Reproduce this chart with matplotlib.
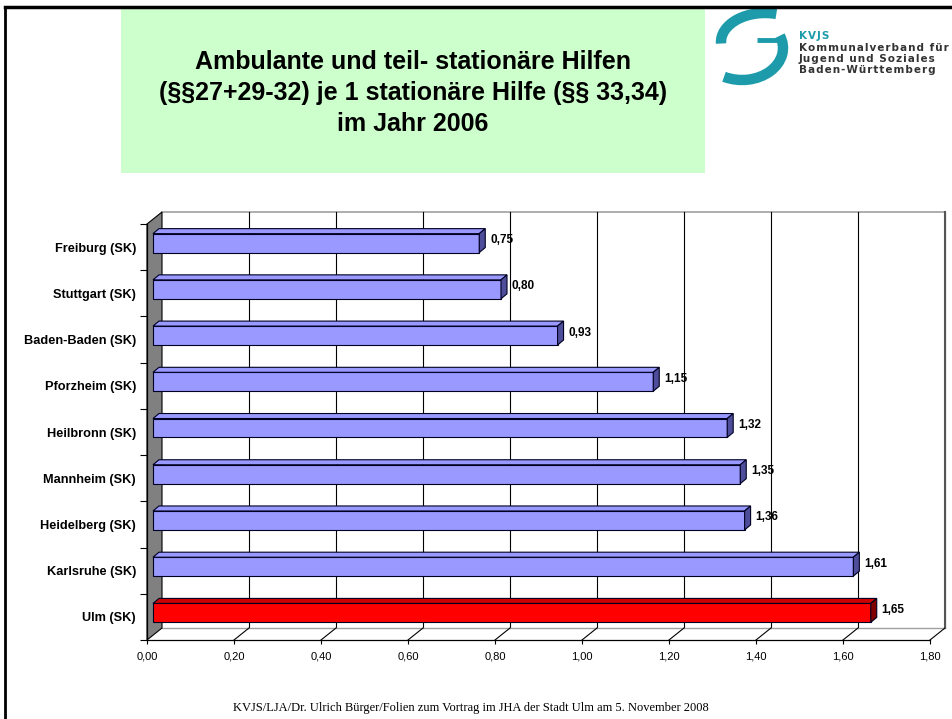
import matplotlib.pyplot as plt
from matplotlib.patches import Polygon, Rectangle, Arc
from matplotlib.ticker import FuncFormatter

# ------------------------------------------------------
# Data
# ------------------------------------------------------

cities = [
    "Freiburg (SK)",
    "Stuttgart (SK)",
    "Baden-Baden (SK)",
    "Pforzheim (SK)",
    "Heilbronn (SK)",
    "Mannheim (SK)",
    "Heidelberg (SK)",
    "Karlsruhe (SK)",
    "Ulm (SK)",
]
values = [0.75, 0.80, 0.93, 1.15, 1.32, 1.35, 1.36, 1.61, 1.65]
highlight = "Ulm (SK)"

x_ticks = [0.0, 0.2, 0.4, 0.6, 0.8, 1.0, 1.2, 1.4, 1.6, 1.8]

title = ("Ambulante und teil- stationäre Hilfen\n"
         "(§§27+29-32) je 1 stationäre Hilfe (§§ 33,34)\n"
         "im Jahr 2006")
footer = ("KVJS/LJA/Dr. Ulrich Bürger/Folien zum Vortrag im JHA "
          "der Stadt Ulm am 5. November 2008")
logo_lines = ["Kommunalverband für", "Jugend und Soziales",
              "Baden-Württemberg"]

# ------------------------------------------------------
# Figure
# ------------------------------------------------------

W, H = 952, 719
fig = plt.figure(figsize=(W / 100, H / 100), dpi=100)
plt.rcParams["font.family"] = ["Liberation Sans", "DejaVu Sans"]

# decoration layer in pixel coordinates
deco = fig.add_axes([0, 0, 1, 1])
deco.set_xlim(0, W)
deco.set_ylim(H, 0)
deco.axis("off")

deco.add_patch(Rectangle((121, 8), 584, 165, color="#CCFFCC", lw=0))
deco.plot([5, 5], [7, H], color="black", lw=2)
deco.plot([5, W], [7, 7], color="black", lw=2.5)

deco.text(413, 93, title, ha="center", va="center", fontsize=18,
          fontweight="bold", linespacing=1.36)

deco.text(471, 708, footer, ha="center", va="center", fontsize=9,
          family=["Liberation Serif"])

# logo
teal = "#1E9BAA"
deco.add_patch(Arc((765, 42), 88, 58, theta1=178, theta2=292,
                   color=teal, lw=7.5))
deco.plot([757, 782], [40, 40], color=teal, lw=3.5, solid_capstyle="butt")
deco.add_patch(Arc((742, 48), 82, 64, theta1=-18, theta2=122,
                   color=teal, lw=7.5))


def spaced(s):
    return "\u200a".join(s).replace("\u200a \u200a", "\u200a \u200a")


deco.text(799, 36, spaced("KVJS"), color=teal, fontsize=7.5,
          fontweight="bold", family=["DejaVu Sans"], va="center")
for i, line in enumerate(logo_lines):
    deco.text(799, 48 + i * 11.2, spaced(line), color="#333333",
              fontsize=7.5, fontweight="bold", family=["DejaVu Sans"],
              va="center")

# ------------------------------------------------------
# Chart (front plane)
# ------------------------------------------------------

left, right, top, bottom = 147, 930, 224, 640
ax = fig.add_axes([left / W, (H - bottom) / H,
                   (right - left) / W, (bottom - top) / H])
ax.patch.set_alpha(0)

n = len(cities)
xmax = x_ticks[-1]
ax.set_xlim(0, xmax)
ax.set_ylim(n - 0.5, -0.5)

sx = xmax / (right - left)
sy = n / (bottom - top)


def off(px_x, px_y):
    # pixel offset (right, up) -> data offset
    return px_x * sx, -px_y * sy


# depth of the box
dx, dy = off(15, 12)
y_top, y_bot = -0.5, n - 0.5

# floor
ax.add_patch(Polygon([(0, y_bot), (xmax, y_bot), (xmax + dx, y_bot + dy),
                      (dx, y_bot + dy)], closed=True, fc="white",
                     ec="none", clip_on=False, zorder=1))
ax.plot([dx, xmax + dx], [y_bot + dy, y_bot + dy], color="#A0A0A0",
        lw=1, clip_on=False, zorder=2)
# side wall
ax.add_patch(Polygon([(0, y_top), (0, y_bot), (dx, y_bot + dy),
                      (dx, y_top + dy)], closed=True, fc="#808080",
                     ec="black", lw=0.8, clip_on=False, zorder=2))
# back wall
ax.plot([dx, xmax + dx], [y_top + dy, y_top + dy], color="#A0A0A0",
        lw=1.2, clip_on=False, zorder=1)
for v in x_ticks[1:]:
    ax.plot([v + dx, v + dx], [y_top + dy, y_bot + dy], color="black",
            lw=0.8, clip_on=False, zorder=1)
    ax.plot([v, v + dx], [y_bot, y_bot + dy], color="black",
            lw=0.8, clip_on=False, zorder=2)
ax.plot([xmax + dx] * 2, [y_top + dy, y_bot + dy], color="#555555",
        lw=1.5, clip_on=False, zorder=1)

# bars
bx, by = off(6, 4)
bdx, bdy = off(6, 5)
h = 0.41
for i, (city, v) in enumerate(zip(cities, values)):
    if city == highlight:
        face, topc, side = "#FF0000", "#CC0000", "#800000"
    else:
        face, topc, side = "#9999FF", "#9999FF", "#4D4D99"
    yc = i + by
    ax.barh(yc, v, left=bx, height=h, color=face, edgecolor="#000022",
            lw=0.8, zorder=4)
    ax.add_patch(Polygon([(bx, yc - h / 2), (bx + v, yc - h / 2),
                          (bx + v + bdx, yc - h / 2 + bdy),
                          (bx + bdx, yc - h / 2 + bdy)], closed=True,
                         fc=topc, ec="#000022", lw=0.8, zorder=4))
    ax.add_patch(Polygon([(bx + v, yc - h / 2), (bx + v, yc + h / 2),
                          (bx + v + bdx, yc + h / 2 + bdy),
                          (bx + v + bdx, yc - h / 2 + bdy)], closed=True,
                         fc=side, ec="#000022", lw=0.8, zorder=4))
    lx, ly = off(11, 3)
    ax.text(bx + v + lx, yc + ly, f"{v:.2f}".replace(".", ","),
            fontsize=8.5, fontweight="bold", va="center", ha="left",
            zorder=5)

# axes / ticks
for s in ["top", "right"]:
    ax.spines[s].set_visible(False)
for s in ["left", "bottom"]:
    ax.spines[s].set_color("black")
    ax.spines[s].set_linewidth(0.9)
    ax.spines[s].set_zorder(3)

ax.set_xticks(x_ticks)
ax.xaxis.set_major_formatter(
    FuncFormatter(lambda v, p: f"{v:.2f}".replace(".", ",")))
ax.tick_params(axis="x", length=3, width=0.8, pad=5, labelsize=8)

ax.set_yticks([i - 0.5 for i in range(n + 1)])
ax.set_yticklabels([])
ax.set_yticks(range(n), minor=True)
ax.set_yticklabels(cities, minor=True, fontsize=9.2, fontweight="bold")
ax.tick_params(axis="y", which="major", length=5, width=0.8)
ax.tick_params(axis="y", which="minor", length=0, pad=8)

fig.savefig("out.png", dpi=100)
